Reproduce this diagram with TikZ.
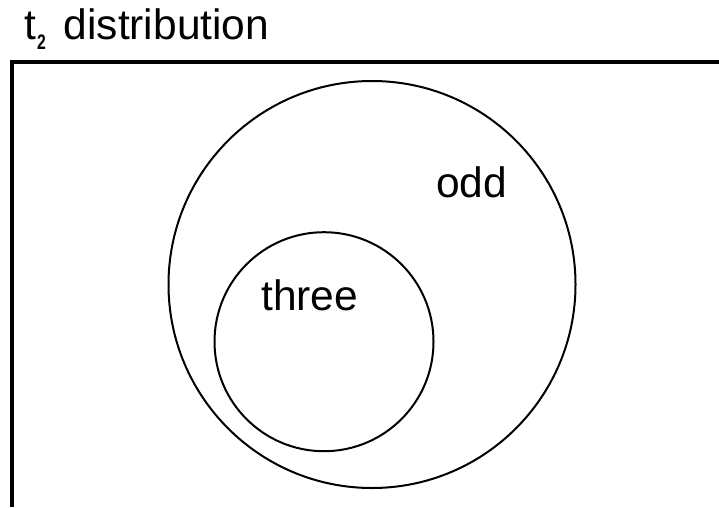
\documentclass[tikz,border=0pt]{standalone}
\usepackage{fontspec}
\usepackage{graphicx}
\setmainfont{Liberation Sans}
\begin{document}
\begin{tikzpicture}[x=1pt,y=-1pt,
  frameline/.style={line width=4pt},
  setcircle/.style={draw,circle,line width=2pt,inner sep=0pt},
  bigtext/.style={font=\fontsize{42.5pt}{42.5pt}\selectfont,inner sep=0pt,anchor=base west},
  subtext/.style={font=\fontsize{21pt}{21pt}\selectfont\bfseries,inner sep=0pt,anchor=base west}]
\useasboundingbox (0,0) rectangle (719,507);
\coordinate (fbl) at (12,507);
\coordinate (ftl) at (12,62);
\coordinate (ftr) at (719,62);
\draw[frameline] (fbl) -- (ftl) -- (ftr);
\node[bigtext] (titlet) at (24.5,39) {t};
\node[subtext] (titlesub) at (37,49) {\scalebox{0.75}[1]{2}};
\node[bigtext] (title) at (63.5,39) {distribution};
\node[setcircle,minimum size=407pt] (odd) at (372,284.5) {};
\node[setcircle,minimum size=219pt] (three) at (324,341.7) {};
\node[bigtext] (oddlabel) at (436,197) {odd};
\node[bigtext] (threelabel) at (261,310) {three};
\end{tikzpicture}
\end{document}
